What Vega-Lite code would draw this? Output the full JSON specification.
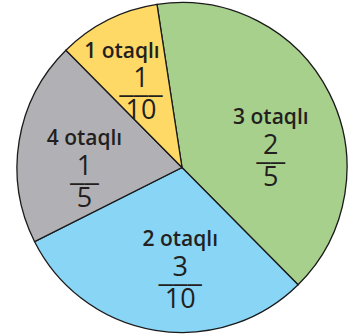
{
  "$schema": "https://vega.github.io/schema/vega-lite/v6.json",
  "autosize": {"type": "fit", "contains": "padding"},
  "width": 350,
  "height": 335,
  "padding": {"left": 14, "right": 0, "top": 0, "bottom": 0},
  "background": "white",
  "view": {"stroke": null},
  "data": {
    "values": [
      {"rooms": "3 otaqlı", "num": "2", "den": "5", "share": 0.4, "rank": 1},
      {"rooms": "2 otaqlı", "num": "3", "den": "10", "share": 0.3, "rank": 2},
      {"rooms": "4 otaqlı", "num": "1", "den": "5", "share": 0.2, "rank": 3},
      {"rooms": "1 otaqlı", "num": "1", "den": "10", "share": 0.1, "rank": 4}
    ]
  },
  "transform": [
    {"stack": "share", "groupby": [], "sort": [{"field": "rank", "order": "ascending"}], "as": ["s0", "s1"]},
    {"calculate": "(datum.s0 + datum.s1) / 2", "as": "mid"},
    {"calculate": "length(datum.den) > 1 ? '–––' : '––'", "as": "bar"}
  ],
  "layer": [
    {
      "mark": {"type": "arc", "outerRadius": 165, "stroke": "#1a1a1a", "strokeWidth": 1.3},
      "encoding": {
        "theta": {"field": "s0", "type": "quantitative", "scale": {"domain": [0, 1], "range": [-0.152, 6.131]}},
        "theta2": {"field": "s1"},
        "color": {"field": "rooms", "type": "nominal", "legend": null,
          "scale": {"domain": ["3 otaqlı", "2 otaqlı", "4 otaqlı", "1 otaqlı"],
                    "range": ["#a8d08d", "#89d5f6", "#b1b1b5", "#ffd966"]}}
      }
    },
    {
      "transform": [{"filter": "datum.rank != 4"}],
      "mark": {"type": "text", "dx": 12, "dy": -11, "font": "Open Sans", "fontSize": 21, "fontWeight": 600, "fill": "#231f20"},
      "encoding": {"text": {"field": "rooms"},
        "theta": {"field": "mid", "type": "quantitative", "stack": false},
        "radius": {"field": "rank", "type": "quantitative", "stack": false, "scale": {"type": "linear", "zero": false, "domain": [1, 2, 3, 4], "range": [86, 85, 111, 118]}}}
    },
    {
      "transform": [{"filter": "datum.rank == 4"}],
      "mark": {"type": "text", "dx": -7, "dy": -10, "font": "Open Sans", "fontSize": 21, "fontWeight": 600, "fill": "#231f20"},
      "encoding": {"text": {"field": "rooms"},
        "theta": {"field": "mid", "type": "quantitative", "stack": false},
        "radius": {"field": "rank", "type": "quantitative", "stack": false}}
    },
    {
      "mark": {"type": "text", "dx": 12, "dy": 17, "font": "Open Sans", "fontSize": 27, "fill": "#231f20"},
      "encoding": {"text": {"field": "num"},
        "theta": {"field": "mid", "type": "quantitative", "stack": false},
        "radius": {"field": "rank", "type": "quantitative", "stack": false}}
    },
    {
      "mark": {"type": "text", "dx": 12, "dy": 33, "font": "Liberation Sans", "fontSize": 26, "fill": "#231f20"},
      "encoding": {"text": {"field": "bar"},
        "theta": {"field": "mid", "type": "quantitative", "stack": false},
        "radius": {"field": "rank", "type": "quantitative", "stack": false}}
    },
    {
      "mark": {"type": "text", "dx": 12, "dy": 49, "font": "Open Sans", "fontSize": 27, "fill": "#231f20"},
      "encoding": {"text": {"field": "den"},
        "theta": {"field": "mid", "type": "quantitative", "stack": false},
        "radius": {"field": "rank", "type": "quantitative", "stack": false}}
    }
  ]
}
